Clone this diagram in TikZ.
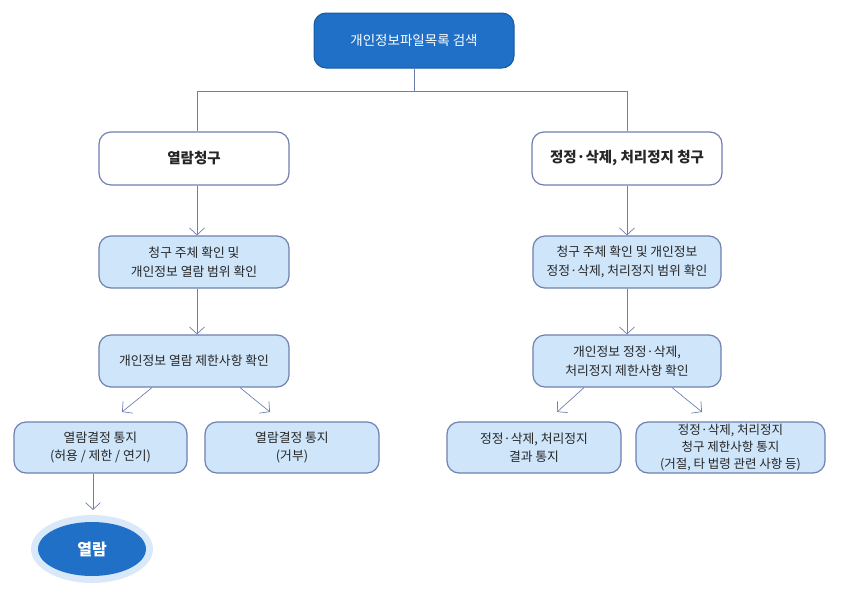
\documentclass[tikz,border=0pt]{standalone}
\usepackage{fontspec}
\setmainfont{Noto Sans CJK KR}
\usetikzlibrary{arrows.meta,shapes.geometric}
\definecolor{lineblue}{HTML}{6F80B0}
\definecolor{lightfill}{HTML}{CFE5FA}
\definecolor{topblue}{HTML}{1F70C6}
\definecolor{glow}{HTML}{D9E9FA}
\definecolor{txt}{HTML}{262626}
\tikzset{
  whitebox/.style={draw=lineblue,line width=1.2pt,fill=white,rounded corners=12pt,minimum width=190pt,minimum height=53pt,align=center,font=\fontsize{14.5}{17}\selectfont\bfseries,text=txt},
  lightbox/.style={draw=lineblue,line width=1.2pt,fill=lightfill,rounded corners=12pt,minimum height=52pt,align=center,font=\fontsize{12.8}{18.5}\selectfont,text=txt},
  topbox/.style={draw=topblue!80!black,line width=1pt,fill=topblue,rounded corners=12pt,minimum width=200pt,minimum height=55pt,align=center,font=\fontsize{13.5}{16}\selectfont,text=white},
  conn/.style={draw=lineblue,line width=0.7pt},
  arr/.style={conn,-{Straight Barb[length=7pt,width=15pt,line width=0.7pt]}}
}
\begin{document}
\begin{tikzpicture}[x=1pt,y=-1pt]
\useasboundingbox (0,0) rectangle (841,595);
\node[topbox] (top) at (414,40.5) {개인정보파일목록 검색};
\node[whitebox] (req1) at (194,158.5) {열람청구};
\node[whitebox] (req2) at (627,158.5) {정정·삭제, 처리정지 청구};
\node[lightbox,minimum width=190pt] (l1) at (194,262) {청구 주체 확인 및\\개인정보 열람 범위 확인};
\node[lightbox,minimum width=190pt] (l2) at (194,361) {개인정보 열람 제한사항 확인};
\node[lightbox,minimum width=173pt,minimum height=51pt] (la) at (100.5,447.5) {열람결정 통지\\(허용 / 제한 / 연기)};
\node[lightbox,minimum width=174pt,minimum height=51pt] (lb) at (292,447.5) {열람결정 통지\\(거부)};
\node[lightbox,minimum width=188pt] (r1) at (627,262) {청구 주체 확인 및 개인정보\\정정·삭제, 처리정지 범위 확인};
\node[lightbox,minimum width=188pt] (r2) at (627,361) {개인정보 정정·삭제,\\처리정지 제한사항 확인};
\node[lightbox,minimum width=174pt,minimum height=51pt] (ra) at (534,447.5) {정정·삭제, 처리정지\\결과 통지};
\node[lightbox,minimum width=189pt,minimum height=51pt,inner sep=1pt,font=\fontsize{12.5}{16.8}\selectfont] (rb) at (730.5,447.5) {정정·삭제, 처리정지\\청구 제한사항 통지\\(거절, 타 법령 관련 사항 등)};
\node[ellipse,fill=glow,minimum width=122pt,minimum height=68pt] (glowe) at (92,549) {};
\node[ellipse,fill=topblue,minimum width=108pt,minimum height=54pt,text=white,font=\fontsize{16}{18}\selectfont\bfseries] (view) at (92,549) {열람};
% connectors
\coordinate (jl) at (197,91);
\coordinate (jr) at (627,91);
\draw[conn] (top.south) |- (jl) -- (req1.north -| jl);
\draw[conn] (top.south) |- (jr) -- (req2.north);
\draw[arr] (req1.south -| jl) -- (l1.north -| jl);
\draw[arr] (l1.south -| jl) -- (l2.north -| jl);
\draw[arr] (req2.south) -- (r1.north);
\draw[arr] (r1.south) -- (r2.north);
\coordinate (a1) at (122,412);
\coordinate (a2) at (270,412);
\coordinate (a3) at (557,412);
\coordinate (a4) at (702,412);
\draw[arr] (l2.south -| 152,0) -- (a1);
\draw[arr] (l2.south -| 240,0) -- (a2);
\draw[arr] (r2.south -| 584,0) -- (a3);
\draw[arr] (r2.south -| 672,0) -- (a4);
\coordinate (a5) at (93,510);
\draw[arr] (la.south -| a5) -- (a5);
\end{tikzpicture}
\end{document}
